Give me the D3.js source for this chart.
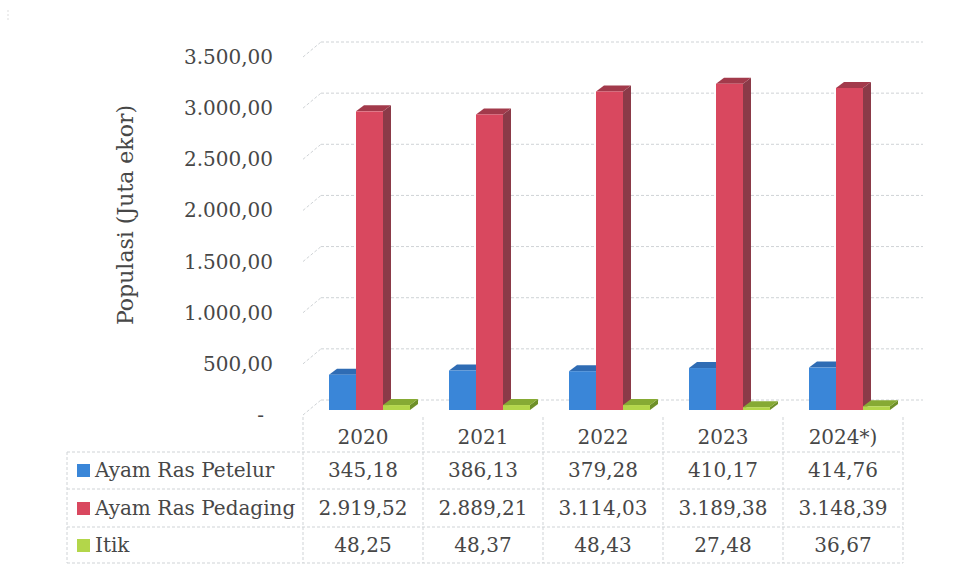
<!DOCTYPE html>
<html><head><meta charset="utf-8">
<script src="https://cdn.jsdelivr.net/npm/d3@7/dist/d3.min.js"></script>
<style>body{margin:0;background:#fff}svg{display:block}
text{font-family:'DejaVu Serif','Liberation Serif',serif}</style>
</head><body>
<script>
const categories = ["2020","2021","2022","2023","2024*)"];
const seriesNames = ["Ayam Ras Petelur","Ayam Ras Pedaging","Itik"];
const petelur = [345.18,386.13,379.28,410.17,414.76];
const pedaging = [2919.52,2889.21,3114.03,3189.38,3148.39];
const itik = [48.25,48.37,48.43,27.48,36.67];
const yTicks = [0,500,1000,1500,2000,2500,3000,3500];
const seriesValues = [petelur,pedaging,itik];
const colors = [
  {front:"#3a86d8", top:"#2f6cb4", side:"#285e9c"},
  {front:"#d9485f", top:"#a23a4b", side:"#8b3a48"},
  {front:"#b3d64a", top:"#86aa34", side:"#6f9029"}
];

const W=959,H=572;
const svg=d3.select("body").append("svg").attr("width",W).attr("height",H);
const loc=d3.formatLocale({decimal:",",thousands:".",grouping:[3],currency:["",""]});
const fmt=loc.format(",.2f");
const textColor="#474747";

// scales
const yF=d3.scaleLinear().domain([0,3500]).range([415,57]);   // front (label) plane
const depthX=18, depthY=15;
const yBar=d3.scaleLinear().domain([0,3500]).range([410,52]);
const x=d3.scaleBand().domain(categories).range([303,903]).padding(0);
const xs=d3.scaleBand().domain(seriesNames).range([26,107]).padding(0);
const bdx=8, bdy=6;

// outer faint border
svg.append("line").attr("x1",8).attr("x2",8).attr("y1",10).attr("y2",22)
  .attr("stroke","#ddd").attr("stroke-dasharray","2,2");

// gridlines (back wall) + side wall diagonals
const grid=svg.append("g").attr("stroke","#cfd3d6").attr("stroke-width",1).attr("stroke-dasharray","3,2").attr("fill","none");
yTicks.forEach(v=>{
  grid.append("line").attr("x1",303+depthX).attr("x2",923).attr("y1",yF(v)-depthY).attr("y2",yF(v)-depthY);
  grid.append("line").attr("x1",303).attr("y1",yF(v)).attr("x2",303+depthX).attr("y2",yF(v)-depthY);
});

// y tick labels
const yl=svg.append("g").attr("font-size",20).attr("fill",textColor).attr("text-anchor","end");
yTicks.forEach(v=>{
  yl.append("text").attr("x",v===0?264:273).attr("y",yF(v)).attr("dy","0.35em").text(v===0?"-":fmt(v));
});

// axis title
svg.append("text").attr("transform",`translate(133,215) rotate(-90)`).attr("text-anchor","middle")
  .attr("font-size",22).attr("fill",textColor).text("Populasi (Juta ekor)");

// bars
const bars=svg.append("g");
categories.forEach((c,i)=>{
  seriesNames.forEach((s,j)=>{
    const v=seriesValues[j][i];
    const x0=x(c)+xs(s), x1=x0+xs.bandwidth();
    const y0=yBar(0), y1=yBar(v);
    const col=colors[j];
    bars.append("path").attr("d",`M${x1},${y1}L${x1+bdx},${y1-bdy}L${x1+bdx},${y0-bdy}L${x1},${y0}Z`).attr("fill",col.side);
    bars.append("path").attr("d",`M${x0},${y1}L${x0+bdx},${y1-bdy}L${x1+bdx},${y1-bdy}L${x1},${y1}Z`).attr("fill",col.top);
    bars.append("rect").attr("x",x0).attr("y",y1).attr("width",x1-x0).attr("height",y0-y1).attr("fill",col.front);
  });
});

// data table
const tbl=svg.append("g");
const rowLines=[452,489,527,563];
const tLeft=67, tRight=903;
const tl=tbl.append("g").attr("stroke","#cfd3d6").attr("stroke-dasharray","3,2").attr("fill","none");
rowLines.forEach(y=>tl.append("line").attr("x1",tLeft).attr("x2",tRight).attr("y1",y).attr("y2",y));
tl.append("line").attr("x1",tLeft).attr("x2",tLeft).attr("y1",452).attr("y2",563);
categories.forEach(c=>{
  tl.append("line").attr("x1",x(c)).attr("x2",x(c)).attr("y1",417).attr("y2",563);
});
tl.append("line").attr("x1",tRight).attr("x2",tRight).attr("y1",417).attr("y2",563);

const tt=tbl.append("g").attr("font-size",20).attr("fill",textColor);
categories.forEach(c=>{
  tt.append("text").attr("x",x(c)+x.bandwidth()/2).attr("y",437).attr("dy","0.35em").attr("text-anchor","middle").text(c);
});
const rowMid=[470,508,545];
seriesNames.forEach((s,j)=>{
  tbl.append("rect").attr("x",77).attr("y",rowMid[j]-6).attr("width",13).attr("height",13).attr("fill",colors[j].front);
  tt.append("text").attr("x",95).attr("y",rowMid[j]).attr("dy","0.35em").text(s);
  categories.forEach((c,i)=>{
    tt.append("text").attr("x",x(c)+x.bandwidth()/2).attr("y",rowMid[j]).attr("dy","0.35em").attr("text-anchor","middle").text(fmt(seriesValues[j][i]));
  });
});
</script>
</body></html>
